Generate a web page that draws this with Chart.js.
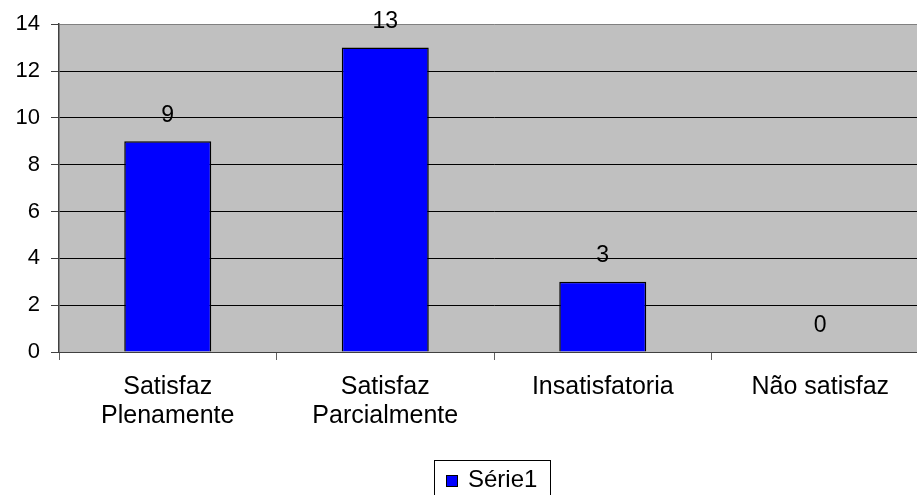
<!DOCTYPE html>
<html><head><meta charset="utf-8">
<script src="https://cdn.jsdelivr.net/npm/chart.js@4/dist/chart.umd.min.js"></script>
<style>html,body{margin:0;padding:0;background:#fff;overflow:hidden;width:917px;height:495px}#wrap{width:929px;height:495px;position:relative}</style>
</head><body>
<div id="wrap"><canvas id="c"></canvas></div>
<script>
const categories = [["Satisfaz","Plenamente"],["Satisfaz","Parcialmente"],"Insatisfatoria","Não satisfaz"];
const seriesName = "Série1";
const values = [9, 13, 3, 0];
const yTicks = [0, 2, 4, 6, 8, 10, 12, 14];

const FONT = "'Liberation Sans', Arial, sans-serif";

const bgPlugin = {
  id: 'bg',
  beforeDraw(chart) {
    const {ctx, chartArea: a} = chart;
    ctx.save();
    ctx.fillStyle = '#C0C0C0';
    ctx.fillRect(a.left, a.top, a.right - a.left, a.bottom - a.top);
    ctx.restore();
  }
};

const labelPlugin = {
  id: 'vals',
  afterDatasetsDraw(chart) {
    const {ctx} = chart;
    const meta = chart.getDatasetMeta(0);
    ctx.save();
    ctx.font = '23px ' + FONT;
    ctx.fillStyle = '#000';
    ctx.textAlign = 'center';
    ctx.textBaseline = 'middle';
    meta.data.forEach((bar, i) => {
      ctx.fillText(String(values[i]), bar.x, bar.y - 26);
    });
    ctx.restore();
  }
};

const legendPlugin = {
  id: 'manualLegend',
  afterDraw(chart) {
    const {ctx} = chart;
    const ds = chart.data.datasets[0];
    ctx.save();
    ctx.font = '24px ' + FONT;
    const tw = ctx.measureText(ds.label).width;
    const boxX = 446, boxY = 475, boxS = 12;
    const textX = boxX + boxS + 10;
    const right = Math.round(textX + tw + 13);
    ctx.strokeStyle = '#000';
    ctx.lineWidth = 1;
    ctx.strokeRect(434.5, 460.5, right - 434, 40);
    ctx.fillStyle = ds.backgroundColor;
    ctx.fillRect(boxX, boxY, boxS, boxS);
    ctx.strokeRect(boxX + 0.5, boxY + 0.5, boxS - 1, boxS - 1);
    ctx.fillStyle = '#000';
    ctx.textAlign = 'left';
    ctx.textBaseline = 'alphabetic';
    ctx.fillText(ds.label, textX, 486.5);
    ctx.restore();
  }
};

new Chart(document.getElementById('c'), {
  type: 'bar',
  data: {
    labels: categories,
    datasets: [{
      label: seriesName,
      data: values,
      backgroundColor: '#0000FF',
      borderColor: '#000000',
      borderWidth: 1.5,
      categoryPercentage: 1.0,
      barPercentage: 0.4
    }]
  },
  options: {
    responsive: true,
    maintainAspectRatio: false,
    animation: false,
    devicePixelRatio: 1,
    layout: {padding: {top: 24, right: 0, left: 0, bottom: 0}},
    plugins: {
      legend: {display: false},
      tooltip: {enabled: false}
    },
    scales: {
      x: {
        offset: true,
        grid: {offset: true, drawOnChartArea: false, drawTicks: true, tickLength: 8, color: '#404040', tickColor: '#606060'},
        border: {display: true, color: '#404040', width: 1},
        ticks: {color: '#000', font: {family: FONT, size: 25, lineHeight: 1.18}, padding: 12, maxRotation: 0, autoSkip: false},
        afterFit(s) { s.height = 143; }
      },
      y: {
        min: 0, max: 14,
        afterBuildTicks(s) { s.ticks = yTicks.map(v => ({value: v})); },
        grid: {
          drawTicks: true, tickLength: 8,
          color: ctx => (ctx.tick && ctx.tick.value === 14) ? '#808080' : '#000000',
          tickColor: '#404040'
        },
        border: {display: true, color: '#404040', width: 1.5},
        ticks: {color: '#000', font: {family: FONT, size: 22}, padding: 11},
        afterFit(s) { s.width = 59; }
      }
    }
  },
  plugins: [bgPlugin, labelPlugin, legendPlugin]
});
</script>
</body></html>
